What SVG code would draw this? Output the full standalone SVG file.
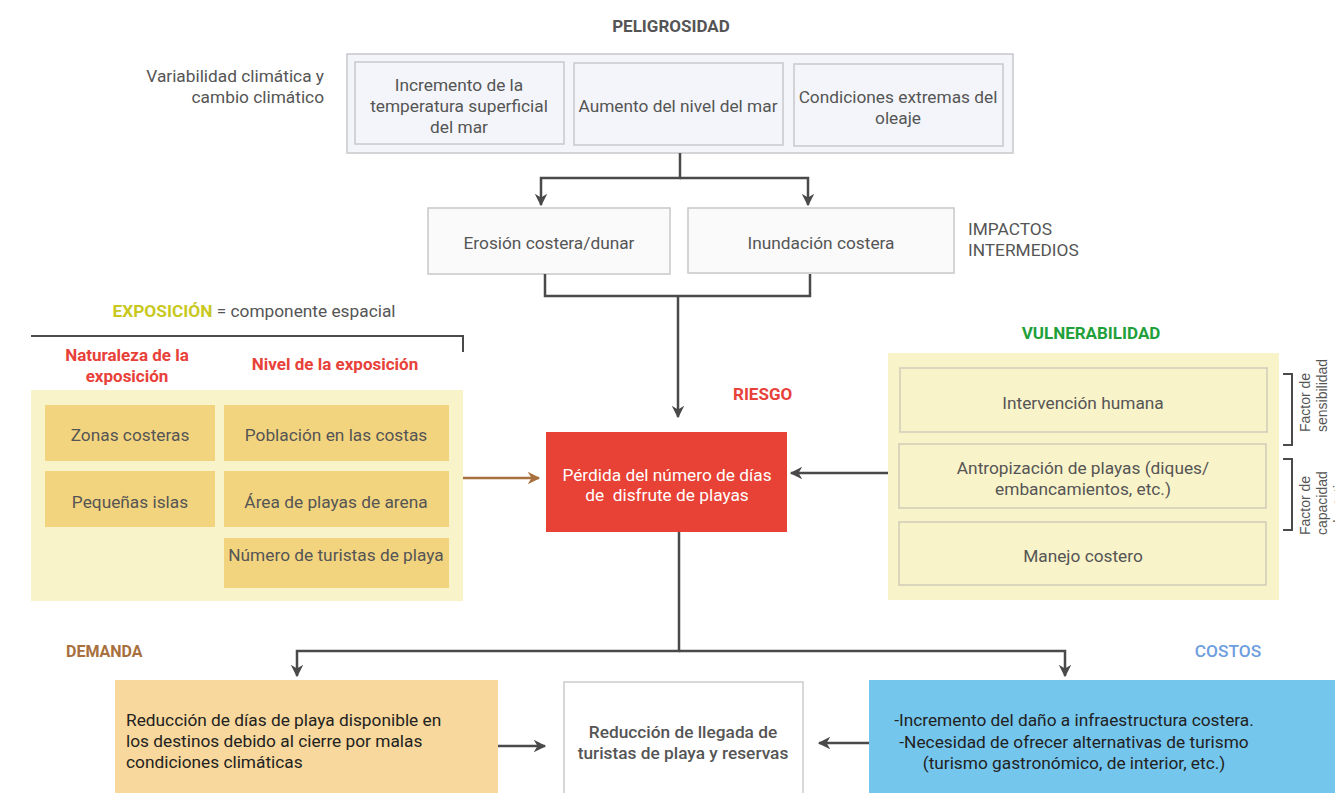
<svg xmlns="http://www.w3.org/2000/svg" width="1335" height="793" viewBox="0 0 1335 793">
<defs>
<style>
text{font-family:Roboto,"Liberation Sans",sans-serif;font-size:17.3px;fill:#555}
.c{text-anchor:middle}
.r{text-anchor:end}
.h{font-weight:bold;font-size:17px}
.red{fill:#e8413a}
.box{fill:#f4f5fa;stroke:#c8c8cc;stroke-width:1.5}
.wb{fill:#fafafa;stroke:#c8c8c8;stroke-width:1.5}
.ybg{fill:#f9f3c9}
.yb{fill:#f3d47e}
.vb{fill:#f9f3c9;stroke:#cfcbb8;stroke-width:1.5}
.ln{fill:none;stroke:#4a4a4a;stroke-width:2.5}
.br{fill:none;stroke:#4a4a4a;stroke-width:2}
.side{font-family:"Liberation Sans",Arial,sans-serif;font-size:14px;fill:#555}
.dk{fill:#222}
</style>
<marker id="ah" viewBox="0 0 10 10" refX="9" refY="5" markerWidth="5" markerHeight="5" orient="auto" markerUnits="strokeWidth"><path d="M0,0 L10,5 L0,10 L3,5 Z" fill="#4a4a4a"/></marker>
<marker id="ahb" viewBox="0 0 10 10" refX="9" refY="5" markerWidth="5" markerHeight="5" orient="auto" markerUnits="strokeWidth"><path d="M0,0 L10,5 L0,10 L3,5 Z" fill="#a8703e"/></marker>
</defs>
<rect width="1335" height="793" fill="#fff"/>

<g id="peligrosidad">
<text class="c h" x="671" y="32">PELIGROSIDAD</text>
<text class="r" x="324" y="82">Variabilidad climática y</text>
<text class="r" x="324" y="103">cambio climático</text>
<rect class="box" x="347" y="54" width="666" height="99"/>
<rect class="box" x="355" y="62" width="209" height="82"/>
<text class="c" x="459" y="91">Incremento de la</text>
<text class="c" x="459" y="112">temperatura superficial</text>
<text class="c" x="459" y="133">del mar</text>
<rect class="box" x="574" y="63" width="209" height="82"/>
<text class="c" x="678" y="112">Aumento del nivel del mar</text>
<rect class="box" x="794" y="64" width="209" height="82"/>
<text class="c" x="898" y="103">Condiciones extremas del</text>
<text class="c" x="898" y="124">oleaje</text>
</g>

<g id="impactos">
<rect class="wb" x="428" y="208" width="242" height="66"/>
<text class="c" x="549" y="249">Erosión costera/dunar</text>
<rect class="wb" x="688" y="208" width="266" height="65"/>
<text class="c" x="821" y="249">Inundación costera</text>
<text x="968" y="235">IMPACTOS</text>
<text x="968" y="256">INTERMEDIOS</text>
</g>

<g id="exposicion">
<text class="c" x="254" y="317"><tspan font-weight="bold" fill="#c8c81e">EXPOSICIÓN</tspan> = componente espacial</text>
<path class="br" d="M31,336 H463 V352"/>
<text class="c h red" x="127" y="361">Naturaleza de la</text>
<text class="c h red" x="127" y="382">exposición</text>
<text class="c h red" x="335" y="370">Nivel de la exposición</text>
<rect class="ybg" x="31" y="390" width="432" height="211"/>
<rect class="yb" x="45" y="405" width="170" height="56"/>
<text class="c" x="130" y="441">Zonas costeras</text>
<rect class="yb" x="45" y="471" width="170" height="56"/>
<text class="c" x="130" y="508">Pequeñas islas</text>
<rect class="yb" x="224" y="405" width="225" height="56"/>
<text class="c" x="336" y="441">Población en las costas</text>
<rect class="yb" x="224" y="471" width="225" height="56"/>
<text class="c" x="336" y="508">Área de playas de arena</text>
<rect class="yb" x="224" y="538" width="225" height="50"/>
<text class="c" x="336" y="561">Número de turistas de playa</text>
</g>

<g id="riesgo">
<text class="h red" x="733" y="400">RIESGO</text>
<rect x="546" y="432" width="241" height="100" fill="#e84135"/>
<text class="c" x="667" y="481" style="fill:#fff">Pérdida del número de días</text>
<text class="c" x="667" y="501" style="fill:#fff;white-space:pre" xml:space="preserve">de  disfrute de playas</text>
</g>

<g id="vulnerabilidad">
<text class="c h" x="1091" y="339" style="fill:#1fa03a">VULNERABILIDAD</text>
<rect class="ybg" x="888" y="353" width="391" height="247"/>
<rect class="vb" x="900" y="368" width="367" height="64"/>
<text class="c" x="1083" y="409">Intervención humana</text>
<rect class="vb" x="899" y="444" width="367" height="64"/>
<text class="c" x="1083" y="474">Antropización de playas (diques/</text>
<text class="c" x="1083" y="495">embancamientos, etc.)</text>
<rect class="vb" x="899" y="522" width="367" height="63"/>
<text class="c" x="1083" y="562">Manejo costero</text>
<path class="br" d="M1283,374 H1292 V445 H1283"/>
<path class="br" d="M1283,459 H1292 V530 H1283"/>
<text class="side" transform="translate(1310,432) rotate(-90)">Factor de</text>
<text class="side" transform="translate(1327,432) rotate(-90)">sensibilidad</text>
<text class="side" transform="translate(1310,535) rotate(-90)">Factor de</text>
<text class="side" transform="translate(1327,535) rotate(-90)">capacidad</text>
<text class="side" transform="translate(1344,535) rotate(-90)">adaptativa</text>
</g>

<g id="demanda">
<text class="h" x="66" y="657" style="fill:#a8703e;font-size:16px">DEMANDA</text>
<rect x="115" y="680" width="383" height="113" fill="#f8d89c"/>
<text class="dk" x="126" y="726">Reducción de días de playa disponible en</text>
<text class="dk" x="126" y="747">los destinos debido al cierre por malas</text>
<text class="dk" x="126" y="768">condiciones climáticas</text>
</g>

<g id="llegada">
<rect x="564" y="682" width="239" height="115" fill="#fff" stroke="#cccccc" stroke-width="1.5"/>
<text class="c" x="683" y="738" style="font-weight:500">Reducción de llegada de</text>
<text class="c" x="683" y="759" style="font-weight:500">turistas de playa y reservas</text>
</g>

<g id="costos">
<text class="c" x="1228" y="657" style="fill:#6f9ee0;font-weight:500">COSTOS</text>
<rect x="869" y="680" width="466" height="113" fill="#74c6ed"/>
<text class="c dk" x="1074" y="726">-Incremento del daño a infraestructura costera.</text>
<text class="c dk" x="1074" y="748">-Necesidad de ofrecer alternativas de turismo</text>
<text class="c dk" x="1074" y="769">(turismo gastronómico, de interior, etc.)</text>
</g>

<g id="connectors">
<path class="ln" d="M680,153 V178 H541 V205" marker-end="url(#ah)"/>
<path class="ln" d="M680,178 H808 V205" marker-end="url(#ah)"/>
<path class="ln" d="M545,274 V296 H810 V274"/>
<path class="ln" d="M678,296 V417" marker-end="url(#ah)"/>
<path d="M463,478 H539" fill="none" stroke="#a8703e" stroke-width="2.5" marker-end="url(#ahb)"/>
<path class="ln" d="M888,473 H791" marker-end="url(#ah)"/>
<path class="ln" d="M679,532 V651 H297 V676" marker-end="url(#ah)"/>
<path class="ln" d="M679,651 H1065 V676" marker-end="url(#ah)"/>
<path class="ln" d="M498,746 H545" marker-end="url(#ah)"/>
<path class="ln" d="M869,743 H819" marker-end="url(#ah)"/>
</g>
</svg>
